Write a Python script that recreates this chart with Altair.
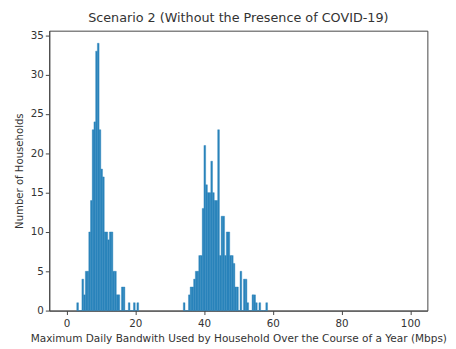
import altair as alt
import pandas as pd

# Histogram bins (start of bin, Mbps) and household counts per bin (bin width 0.5)
bin_width = 0.5
bin_starts = [
    3.0, 3.5, 4.0, 4.5, 5.0, 5.5, 6.0, 6.5, 7.0, 7.5, 8.0, 8.5, 9.0, 9.5,
    10.0, 10.5, 11.0, 11.5, 12.0, 12.5, 13.0, 13.5, 14.0, 14.5, 15.0, 15.5,
    16.0, 16.5, 17.0, 17.5, 18.0, 18.5, 19.0, 19.5, 20.0, 20.5,
    34.0, 34.5, 35.0, 35.5, 36.0, 36.5, 37.0, 37.5, 38.0, 38.5, 39.0, 39.5,
    40.0, 40.5, 41.0, 41.5, 42.0, 42.5, 43.0, 43.5, 44.0, 44.5, 45.0, 45.5,
    46.0, 46.5, 47.0, 47.5, 48.0, 48.5, 49.0, 49.5, 50.0, 50.5, 51.0, 51.5,
    52.0, 52.5, 53.0, 53.5, 54.0, 54.5, 55.0, 55.5, 56.0, 56.5, 57.0, 57.5,
    58.0,
]
counts = [
    1, 0, 0, 4, 2, 5, 5, 10, 14, 23, 24, 33, 34, 23,
    18, 17, 10, 10, 9, 10, 10, 5, 5, 2, 2, 0,
    3, 3, 0, 0, 1, 0, 0, 1, 0, 1,
    1, 0, 0, 2, 3, 3, 4, 5, 5, 7, 7, 13,
    21, 16, 15, 15, 19, 15, 14, 14, 23, 7, 12, 12,
    7, 10, 10, 7, 7, 6, 3, 3, 0, 5, 0, 4,
    4, 1, 0, 0, 2, 2, 1, 0, 1, 0, 0, 0,
    1,
]

x_ticks = [0, 20, 40, 60, 80, 100]
y_ticks = [0, 5, 10, 15, 20, 25, 30, 35]

df = pd.DataFrame({"start": bin_starts, "count": counts})
df["end"] = df["start"] + bin_width

font = "DejaVu Sans"
bar_color = "#2a84bb"

chart = (
    alt.Chart(df)
    .mark_bar(color=bar_color, stroke=bar_color, strokeWidth=0.4)
    .encode(
        x=alt.X(
            "start:Q",
            scale=alt.Scale(domain=[-5, 105], nice=False, zero=False),
            axis=alt.Axis(
                values=x_ticks,
                title="Maximum Daily Bandwith Used by Household Over the Course of a Year (Mbps)",
                grid=False,
                tickSize=4,
                labelPadding=4,
                titlePadding=5,
                titleFontSize=10.7,
            ),
        ),
        x2="end:Q",
        y=alt.Y(
            "count:Q",
            scale=alt.Scale(domain=[0, 35.6], nice=False),
            axis=alt.Axis(
                values=y_ticks,
                title="Number of Households",
                grid=False,
                tickSize=4,
                labelPadding=2,
                titlePadding=6,
                titleFontSize=10.3,
            ),
        ),
        y2=alt.datum(0),
    )
    .properties(
        width=385,
        height=285,
        title=alt.TitleParams(
            "Scenario 2 (Without the Presence of COVID-19)",
            font=font,
            fontSize=13,
            fontWeight="normal",
            color="#333",
            offset=6,
        ),
        padding={"left": 42, "top": 20, "right": 21, "bottom": 36},
        autosize=alt.AutoSizeParams(type="none"),
    )
    .configure_axis(
        labelFont=font,
        titleFont=font,
        labelFontSize=10.5,
        titleFontWeight="normal",
        labelColor="#333",
        titleColor="#333",
        domainColor="#444",
        tickColor="#444",
    )
    .configure_view(stroke="#444", strokeWidth=1)
)

chart.save("out.html", embed_options={"renderer": "svg", "actions": False})
